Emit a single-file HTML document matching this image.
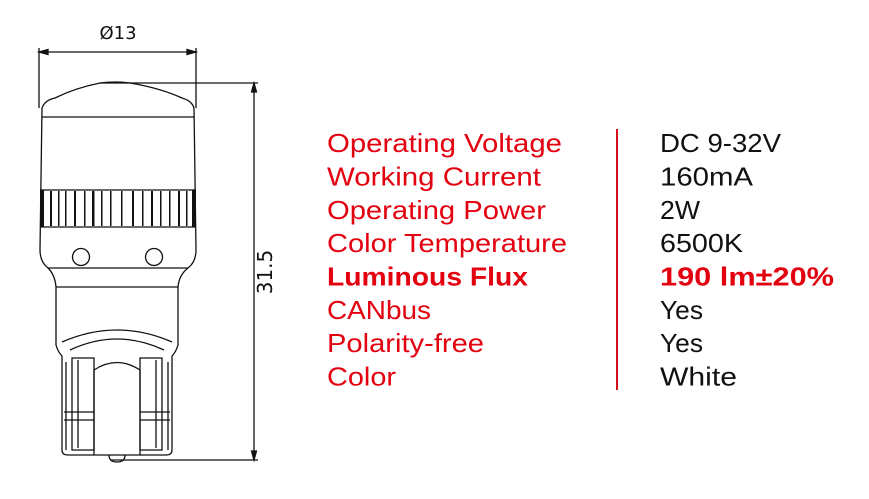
<!DOCTYPE html>
<html><head><meta charset="utf-8"><style>
html,body{margin:0;padding:0;background:#fff;width:869px;height:499px;overflow:hidden}
svg{display:block}
.l{fill:#e3000f;font-family:"Liberation Sans",sans-serif;font-size:26px}
.v{fill:#111;font-family:"Liberation Sans",sans-serif;font-size:26px}
.b{font-weight:bold}
</style></head><body>
<svg width="869" height="499" viewBox="0 0 869 499" xmlns="http://www.w3.org/2000/svg">
<g stroke="#111" stroke-width="1.3" fill="none">
<line x1="39" y1="48" x2="39" y2="108"/>
<line x1="196" y1="48" x2="196" y2="108"/>
<line x1="39" y1="52" x2="196" y2="52"/>
<path d="M39 52 l9 -2.5 v5 z M196 52 l-9 -2.5 v5 z" fill="#111"/>
<line x1="100" y1="83" x2="258" y2="83"/>
<line x1="110" y1="460" x2="258" y2="460"/>
<line x1="254" y1="83" x2="254" y2="460"/>
<path d="M254 83 l-2.5 9 h5 z M254 460 l-2.5 -9 h5 z" fill="#111"/>
<path d="M42 108 Q45 100 55 98 Q75 88 100 83 Q115 81 130 83 Q160 88 182 98 Q192 101 194 108"/>
<line x1="42" y1="117" x2="194" y2="117"/>
<path d="M42 108 L40 250 Q40 262 48 268 Q55 275 56 287 L56 345 Q58 352 62 356"/>
<path d="M194 108 L196 250 Q196 262 188 268 Q179 275 178 287 L178 345 Q176 352 172 356"/>
<line x1="40" y1="190" x2="196" y2="190"/>
<line x1="40" y1="227" x2="196" y2="227"/>
<line x1="48" y1="268" x2="188" y2="268"/>
<line x1="56" y1="287" x2="178" y2="287"/>
<circle cx="81" cy="257" r="8.5"/>
<circle cx="154" cy="257" r="8.5"/>
<path d="M62 342 Q117 318 172 342"/>
<path d="M70 350 Q117 328 164 350"/>
<path d="M62 356 L62 450 Q62 455 68 455 L166 455 Q172 455 172 450 L172 356"/>
<path d="M66 362 L66 450 M168 362 L168 450"/>
<path d="M72 358 h22 v92 h-22 z M140 358 h22 v92 h-22 z"/>
<path d="M78 360 v88 M156 360 v88"/>
<path d="M94 370 Q117 355 140 370"/>
<path d="M94 370 v85 M140 370 v85"/>
<line x1="64" y1="412" x2="94" y2="412"/><line x1="64" y1="420" x2="94" y2="420"/>
<line x1="140" y1="412" x2="170" y2="412"/><line x1="140" y1="420" x2="170" y2="420"/>
<path d="M109 455 Q109 462 117 462 Q125 462 125 455"/>
</g>
<g fill="#111">
<rect x="40" y="190" width="4" height="37"/><rect x="192" y="190" width="4" height="37"/>
<rect x="50" y="191" width="2" height="35"/><rect x="58" y="191" width="1.5" height="35"/>
<rect x="65" y="191" width="1.5" height="35"/><rect x="74" y="191" width="2" height="35"/>
<rect x="84" y="191" width="1.5" height="35"/><rect x="92" y="191" width="2.5" height="35"/>
<rect x="101" y="191" width="1.5" height="35"/><rect x="110" y="191" width="1.5" height="35"/>
<rect x="121" y="191" width="1.5" height="35"/><rect x="132" y="191" width="2" height="35"/>
<rect x="142" y="191" width="1.5" height="35"/><rect x="151" y="191" width="2" height="35"/>
<rect x="160" y="191" width="1.5" height="35"/><rect x="169" y="191" width="1.5" height="35"/>
<rect x="178" y="191" width="2" height="35"/><rect x="186" y="191" width="1.5" height="35"/>
</g>
<text x="118" y="39" text-anchor="middle" font-family="'DejaVu Sans',sans-serif" font-size="18" fill="#111">Ø13</text>
<text transform="translate(272,272) rotate(-90)" text-anchor="middle" font-family="'DejaVu Sans',sans-serif" font-size="20" fill="#111">31.5</text>
<line x1="617" y1="129" x2="617" y2="390" stroke="#d0101a" stroke-width="2"/>
<text class="l" x="327" y="152" textLength="235" lengthAdjust="spacingAndGlyphs">Operating Voltage</text>
<text class="l" x="327" y="185.5" textLength="214" lengthAdjust="spacingAndGlyphs">Working Current</text>
<text class="l" x="327" y="219" textLength="219" lengthAdjust="spacingAndGlyphs">Operating Power</text>
<text class="l" x="327" y="252" textLength="240" lengthAdjust="spacingAndGlyphs">Color Temperature</text>
<text class="l b" x="327" y="285.5" textLength="201" lengthAdjust="spacingAndGlyphs">Luminous Flux</text>
<text class="l" x="327" y="319" textLength="104" lengthAdjust="spacingAndGlyphs">CANbus</text>
<text class="l" x="327" y="352" textLength="157" lengthAdjust="spacingAndGlyphs">Polarity-free</text>
<text class="l" x="327" y="385.5" textLength="69" lengthAdjust="spacingAndGlyphs">Color</text>
<text class="v" x="660" y="152" textLength="121" lengthAdjust="spacingAndGlyphs">DC 9-32V</text>
<text class="v" x="660" y="185.5" textLength="93" lengthAdjust="spacingAndGlyphs">160mA</text>
<text class="v" x="660" y="219" textLength="40" lengthAdjust="spacingAndGlyphs">2W</text>
<text class="v" x="660" y="252" textLength="83" lengthAdjust="spacingAndGlyphs">6500K</text>
<text class="l b" x="660" y="285.5" textLength="174" lengthAdjust="spacingAndGlyphs">190 lm±20%</text>
<text class="v" x="660" y="319" textLength="43" lengthAdjust="spacingAndGlyphs">Yes</text>
<text class="v" x="660" y="352" textLength="43" lengthAdjust="spacingAndGlyphs">Yes</text>
<text class="v" x="660" y="385.5" textLength="77" lengthAdjust="spacingAndGlyphs">White</text>
</svg>
</body></html>
